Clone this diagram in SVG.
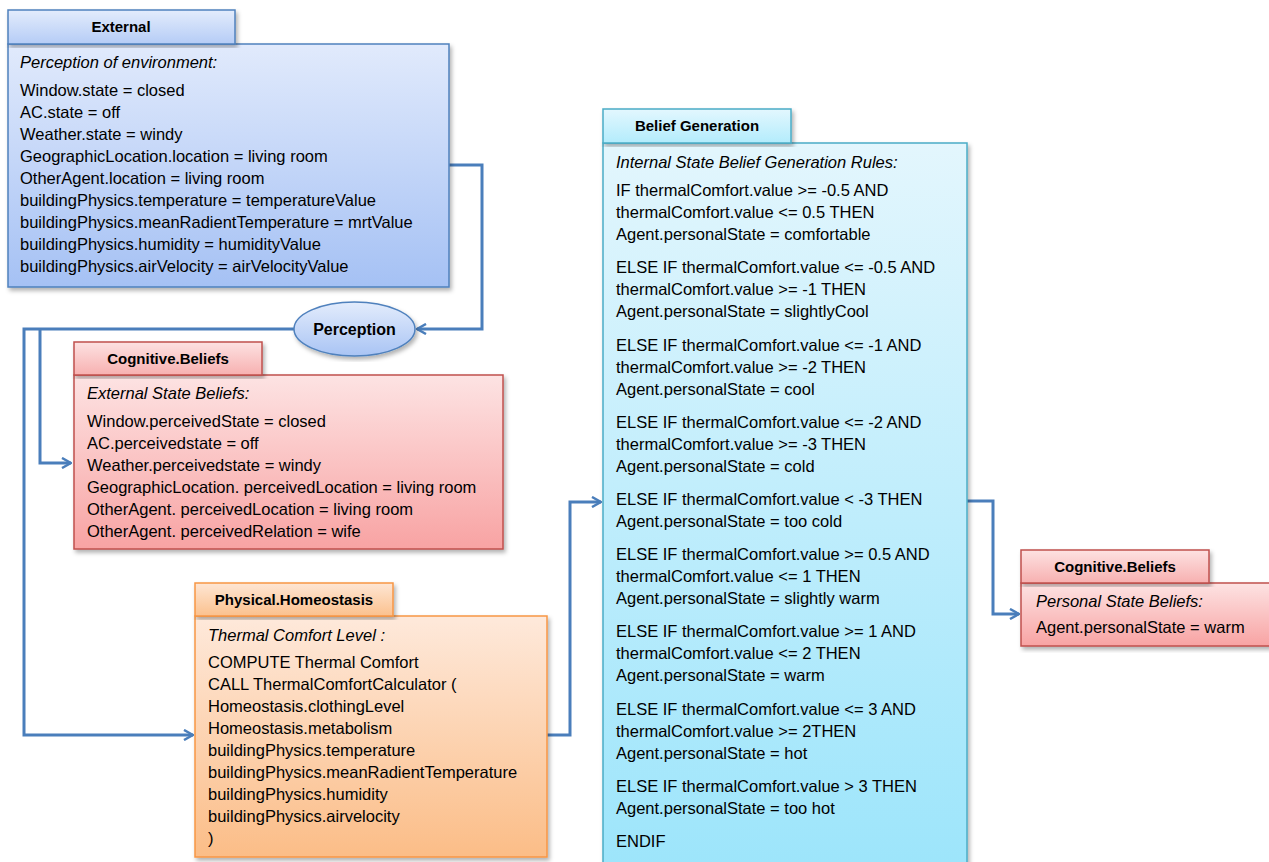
<svg xmlns="http://www.w3.org/2000/svg" width="1269" height="862" viewBox="0 0 1269 862">
<defs>
<linearGradient id="gBlue" x1="0" y1="0" x2="0" y2="1"><stop offset="0" stop-color="#e1eafc"/><stop offset="1" stop-color="#a5c1f4"/></linearGradient>
<linearGradient id="gBlueH" x1="0" y1="0" x2="0" y2="1"><stop offset="0" stop-color="#e3ecfc"/><stop offset="1" stop-color="#b5ccf6"/></linearGradient>
<linearGradient id="gRed" x1="0" y1="0" x2="0" y2="1"><stop offset="0" stop-color="#fde3e3"/><stop offset="1" stop-color="#f8a3a3"/></linearGradient>
<linearGradient id="gRedH" x1="0" y1="0" x2="0" y2="1"><stop offset="0" stop-color="#fde2e2"/><stop offset="1" stop-color="#f7b0b0"/></linearGradient>
<linearGradient id="gOr" x1="0" y1="0" x2="0" y2="1"><stop offset="0" stop-color="#fee9db"/><stop offset="1" stop-color="#fbbd87"/></linearGradient>
<linearGradient id="gOrH" x1="0" y1="0" x2="0" y2="1"><stop offset="0" stop-color="#fee6d4"/><stop offset="1" stop-color="#fbc18e"/></linearGradient>
<linearGradient id="gCy" x1="0" y1="0" x2="0" y2="1"><stop offset="0" stop-color="#e3f6fd"/><stop offset="1" stop-color="#9de5fb"/></linearGradient>
<linearGradient id="gCyH" x1="0" y1="0" x2="0" y2="1"><stop offset="0" stop-color="#e3f7fe"/><stop offset="1" stop-color="#b3ecfc"/></linearGradient>
<linearGradient id="gEll" x1="0" y1="0" x2="0" y2="1"><stop offset="0" stop-color="#e3ecfc"/><stop offset="1" stop-color="#a9c4f4"/></linearGradient>
<filter id="sh" x="-5%" y="-5%" width="112%" height="115%"><feDropShadow dx="2" dy="3" stdDeviation="2" flood-color="#000" flood-opacity="0.3"/></filter>
<marker id="arr" viewBox="0 0 12 12" refX="11" refY="6" markerWidth="12" markerHeight="12" markerUnits="userSpaceOnUse" orient="auto"><path d="M2,1 L11,6 L2,11" fill="none" stroke="#4a7ebb" stroke-width="2.5"/></marker>
</defs>
<style>
text{font-family:"Liberation Sans",Arial,sans-serif;font-size:16.5px;fill:#000}
.h{font-weight:bold;font-size:15px;text-anchor:middle}
.p{font-size:16px}
.i{font-style:italic}
.c{fill:none;stroke:#4a7ebb;stroke-width:3}
.bl{stroke:#4f81bd;stroke-width:1.5}
.rd{stroke:#c0504d;stroke-width:1.5}
.or{stroke:#f79646;stroke-width:1.5}
.cy{stroke:#4bacc6;stroke-width:1.5}
</style>
<rect width="1269" height="862" fill="#fff"/>

<g id="connectors">
<path class="c" d="M449,165 H482 V329 H417" marker-end="url(#arr)"/>
<path class="c" d="M294,329 H24 V735 H193" marker-end="url(#arr)"/>
<path class="c" d="M40,329 V463 H71" marker-end="url(#arr)"/>
<path class="c" d="M547,735 H570 V502 H601" marker-end="url(#arr)"/>
<path class="c" d="M967,501 H993 V614 H1019" marker-end="url(#arr)"/>
</g>

<g id="external">
<rect class="bl" x="8" y="44" width="441" height="243" fill="url(#gBlue)" filter="url(#sh)"/>
<rect class="bl" x="8" y="10" width="227" height="34" fill="url(#gBlueH)" filter="url(#sh)"/>
<text class="h" x="121" y="32">External</text>
<text class="i" x="20" y="68">Perception of environment:</text>
<text x="20" y="96">Window.state = closed</text>
<text x="20" y="118">AC.state = off</text>
<text x="20" y="140">Weather.state = windy</text>
<text x="20" y="162">GeographicLocation.location = living room</text>
<text x="20" y="184">OtherAgent.location = living room</text>
<text x="20" y="206">buildingPhysics.temperature = temperatureValue</text>
<text x="20" y="228">buildingPhysics.meanRadientTemperature = mrtValue</text>
<text x="20" y="250">buildingPhysics.humidity = humidityValue</text>
<text x="20" y="272">buildingPhysics.airVelocity = airVelocityValue</text>
</g>

<g id="perception">
<ellipse class="bl" cx="354.5" cy="329" rx="60.5" ry="27" fill="url(#gEll)" filter="url(#sh)"/>
<text class="h p" x="354.5" y="335">Perception</text>
</g>

<g id="cognitive-beliefs-1">
<rect class="rd" x="74" y="375" width="429" height="174" fill="url(#gRed)" filter="url(#sh)"/>
<rect class="rd" x="74" y="342" width="188" height="33" fill="url(#gRedH)" filter="url(#sh)"/>
<text class="h" x="168" y="364">Cognitive.Beliefs</text>
<text class="i" x="87" y="399">External State Beliefs:</text>
<text x="87" y="427">Window.perceivedState = closed</text>
<text x="87" y="449">AC.perceivedstate = off</text>
<text x="87" y="471">Weather.perceivedstate = windy</text>
<text x="87" y="493">GeographicLocation. perceivedLocation = living room</text>
<text x="87" y="515">OtherAgent. perceivedLocation = living room</text>
<text x="87" y="537">OtherAgent. perceivedRelation = wife</text>
</g>

<g id="physical-homeostasis">
<rect class="or" x="195" y="616" width="352" height="241" fill="url(#gOr)" filter="url(#sh)"/>
<rect class="or" x="195" y="583" width="198" height="33" fill="url(#gOrH)" filter="url(#sh)"/>
<text class="h" x="294" y="605">Physical.Homeostasis</text>
<text class="i" x="208" y="641">Thermal Comfort Level :</text>
<text x="208" y="668">COMPUTE Thermal Comfort</text>
<text x="208" y="690">CALL ThermalComfortCalculator  (</text>
<text x="208" y="712">Homeostasis.clothingLevel</text>
<text x="208" y="734">Homeostasis.metabolism</text>
<text x="208" y="756">buildingPhysics.temperature</text>
<text x="208" y="778">buildingPhysics.meanRadientTemperature</text>
<text x="208" y="800">buildingPhysics.humidity</text>
<text x="208" y="822">buildingPhysics.airvelocity</text>
<text x="208" y="844">)</text>
</g>

<g id="belief-generation">
<rect class="cy" x="603" y="143" width="364" height="722" fill="url(#gCy)" filter="url(#sh)"/>
<rect class="cy" x="603" y="109" width="188" height="34" fill="url(#gCyH)" filter="url(#sh)"/>
<text class="h" x="697" y="131">Belief Generation</text>
<text class="i" x="616" y="168">Internal State Belief Generation  Rules:</text>
<text x="616" y="196">IF thermalComfort.value  &gt;= -0.5 AND</text>
<text x="616" y="218">thermalComfort.value &lt;= 0.5 THEN</text>
<text x="616" y="240">Agent.personalState = comfortable</text>
<text x="616" y="273">ELSE IF thermalComfort.value  &lt;= -0.5 AND</text>
<text x="616" y="295">thermalComfort.value &gt;= -1 THEN</text>
<text x="616" y="317">Agent.personalState = slightlyCool</text>
<text x="616" y="351">ELSE IF thermalComfort.value  &lt;= -1 AND</text>
<text x="616" y="373">thermalComfort.value &gt;= -2 THEN</text>
<text x="616" y="395">Agent.personalState = cool</text>
<text x="616" y="428">ELSE IF thermalComfort.value  &lt;= -2 AND</text>
<text x="616" y="450">thermalComfort.value &gt;= -3 THEN</text>
<text x="616" y="472">Agent.personalState = cold</text>
<text x="616" y="505">ELSE IF thermalComfort.value  &lt; -3 THEN</text>
<text x="616" y="527">Agent.personalState = too cold</text>
<text x="616" y="560">ELSE IF thermalComfort.value  &gt;= 0.5 AND</text>
<text x="616" y="582">thermalComfort.value &lt;= 1 THEN</text>
<text x="616" y="604">Agent.personalState = slightly warm</text>
<text x="616" y="637">ELSE IF thermalComfort.value  &gt;= 1 AND</text>
<text x="616" y="659">thermalComfort.value &lt;= 2 THEN</text>
<text x="616" y="681">Agent.personalState = warm</text>
<text x="616" y="715">ELSE IF thermalComfort.value  &lt;= 3 AND</text>
<text x="616" y="737">thermalComfort.value &gt;= 2THEN</text>
<text x="616" y="759">Agent.personalState = hot</text>
<text x="616" y="792">ELSE IF thermalComfort.value  &gt; 3 THEN</text>
<text x="616" y="814">Agent.personalState = too hot</text>
<text x="616" y="847">ENDIF</text>
</g>

<g id="cognitive-beliefs-2">
<rect class="rd" x="1021" y="583" width="260" height="63" fill="url(#gRed)" filter="url(#sh)"/>
<rect class="rd" x="1021" y="550" width="188" height="33" fill="url(#gRedH)" filter="url(#sh)"/>
<text class="h" x="1115" y="572">Cognitive.Beliefs</text>
<text class="i" x="1036" y="607">Personal State Beliefs:</text>
<text x="1036" y="633">Agent.personalState = warm</text>
</g>
</svg>
